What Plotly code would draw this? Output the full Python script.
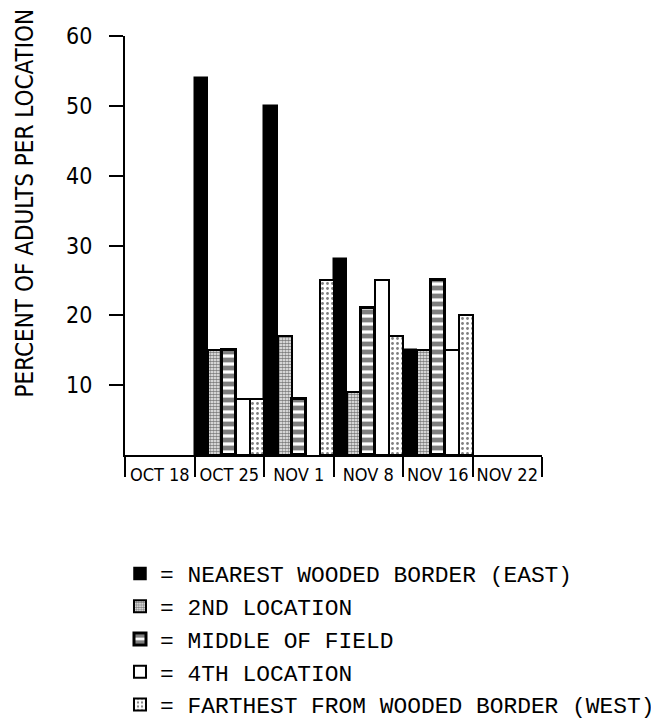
import plotly.graph_objects as go

dates = ["OCT 18", "OCT 25", "NOV 1", "NOV 8", "NOV 16", "NOV 22"]
nearest = [0, 54, 50, 28, 15, 0]
second = [0, 15, 17, 9, 15, 0]
middle = [0, 15, 8, 21, 25, 0]
fourth = [0, 8, 0, 25, 15, 0]
farthest = [0, 8, 25, 17, 20, 0]

names = [
    "= NEAREST WOODED BORDER (EAST)",
    "= 2ND LOCATION",
    "= MIDDLE OF FIELD",
    "= 4TH LOCATION",
    "= FARTHEST FROM WOODED BORDER (WEST)",
]
series = [nearest, second, middle, fourth, farthest]

styles = [
    dict(color="black", pattern=dict(shape="")),
    dict(color="white", pattern=dict(shape=".", fgcolor="black", bgcolor="#ffffff", size=3, solidity=0.62)),
    dict(color="white", pattern=dict(shape="-", fgcolor="black", bgcolor="#ffffff", size=8, solidity=0.6)),
    dict(color="white", pattern=dict(shape="")),
    dict(color="white", pattern=dict(shape=".", fgcolor="black", bgcolor="#ffffff", size=5, solidity=0.25)),
]
line_w = [1.5, 2, 3, 2, 2]

fig = go.Figure()
for i, (nm, vals, st) in enumerate(zip(names, series, styles)):
    widths = [line_w[i] if v else 0 for v in vals]
    fig.add_trace(go.Bar(
        x=dates, y=vals, name=nm, showlegend=False,
        marker=dict(color=st["color"], pattern=st["pattern"],
                    line=dict(color="black", width=widths)),
    ))
# legend entries (no data) on a hidden overlay axis so they do not affect grouping
for i, (nm, st) in enumerate(zip(names, styles)):
    fig.add_trace(go.Bar(
        x=[None], y=[None], name=nm, xaxis="x2", showlegend=True, legendgroup=str(i),
        marker=dict(color=st["color"], pattern=st["pattern"],
                    line=dict(color="black", width=line_w[i])),
    ))

font_axis = "DejaVu Sans Condensed, Liberation Sans Narrow, DejaVu Sans"

fig.update_layout(
    width=659, height=728,
    margin=dict(l=117, r=125, t=28, b=281),
    paper_bgcolor="white", plot_bgcolor="white",
    barmode="group", bargap=0, bargroupgap=0,
    showlegend=True,
    legend=dict(
        x=-0.012, xref="paper", y=0.2527, yref="container", xanchor="left", yanchor="top",
        font=dict(family="Liberation Mono, DejaVu Sans Mono", size=22.9, color="black"),
        tracegroupgap=0, bgcolor="rgba(0,0,0,0)",
    ),
    xaxis=dict(
        type="category", range=[-0.5, 5.5],
        showline=True, linecolor="black", linewidth=2,
        ticks="outside", tickson="boundaries", ticklen=20, tickwidth=2, tickcolor="black",
        tickangle=0, ticklabelstandoff=2,
        tickfont=dict(family=font_axis, size=18, color="black"),
        showgrid=False, zeroline=False,
    ),
    xaxis2=dict(overlaying="x", visible=False),
    yaxis=dict(
        range=[0, 60], tickvals=[10, 20, 30, 40, 50, 60],
        showline=True, linecolor="black", linewidth=2,
        ticks="outside", ticklen=14, tickwidth=2, tickcolor="black",
        ticklabelstandoff=12,
        tickfont=dict(family=font_axis, size=23, color="black"),
        showgrid=False, zeroline=False,
    ),
    annotations=[dict(
        text="PERCENT OF ADULTS PER LOCATION", textangle=-90,
        xref="paper", yref="paper", x=(17 - 117) / 419, y=(447 - 195) / 419,
        xanchor="center", yanchor="middle", showarrow=False,
        font=dict(family=font_axis, size=24, color="black"),
    )],
)

fig.write_html("out.html")
